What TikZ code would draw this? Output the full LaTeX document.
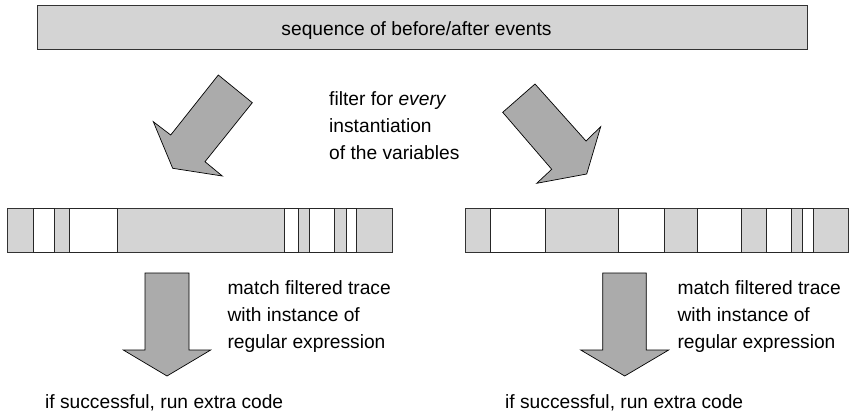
\documentclass[tikz,border=0pt]{standalone}
\usepackage{fontspec}
\setmainfont{Liberation Sans}
\begin{document}
\begin{tikzpicture}[x=1pt,y=-1pt,
  bar/.style={draw=black!80,line width=0.9pt,fill=black!17},
  seg/.style={draw=black!85,line width=0.9pt,fill=white},
  blockarrow/.style={draw=black,line width=0.7pt,fill=black!33,line join=miter},
  lbl/.style={font=\fontsize{19.2}{26.8}\selectfont,inner sep=0pt,align=left,anchor=base west}]
\useasboundingbox (0,0) rectangle (850,415);
% top bar
\draw[bar] (37,5) rectangle (807,49);
\node[lbl,anchor=base] (seq) at (416.5,35) {sequence of before/after events};
% diagonal block arrows
\draw[blockarrow] (218.3,75) -- (252.3,102.7) -- (205,161.7) -- (222.3,176) -- (172.7,168.3) -- (153.3,121.7) -- (170.7,135) -- cycle;
\draw[blockarrow] (535,84) -- (502.7,112.3) -- (551.7,169.3) -- (536.7,183.3) -- (586.7,174) -- (600.7,126.7) -- (586,141) -- cycle;
% multi-line labels: base anchor = baseline of last line
\node[lbl] (filt) at (329,159) {filter for \textit{every}\\instantiation\\of the variables};
% left trace
\draw[bar] (7,208) rectangle (392,252);
\foreach \a/\b in {33/54,69/117,284/298,309/334,346/356}
  \draw[seg] (\a,208) rectangle (\b,252);
% right trace
\draw[bar] (465,208) rectangle (848.5,252);
\foreach \a/\b in {490/545,618/664,697/741,766/791,802/813}
  \draw[seg] (\a,208) rectangle (\b,252);
% down arrows
\draw[blockarrow] (145,273) -- (189,273) -- (189,350) -- (210.7,350) -- (167,376) -- (123.3,350) -- (145,350) -- cycle;
\draw[blockarrow] (602.7,273) -- (646.3,273) -- (646.3,350) -- (668.7,350) -- (624.7,376) -- (580.7,350) -- (602.7,350) -- cycle;
\node[lbl] (matchL) at (227.3,348) {match filtered trace\\with instance of\\regular expression};
\node[lbl] (matchR) at (677.3,348) {match filtered trace\\with instance of\\regular expression};
\node[lbl] (succL) at (45,408) {if successful, run extra code};
\node[lbl] (succR) at (505,408) {if successful, run extra code};
\end{tikzpicture}
\end{document}
